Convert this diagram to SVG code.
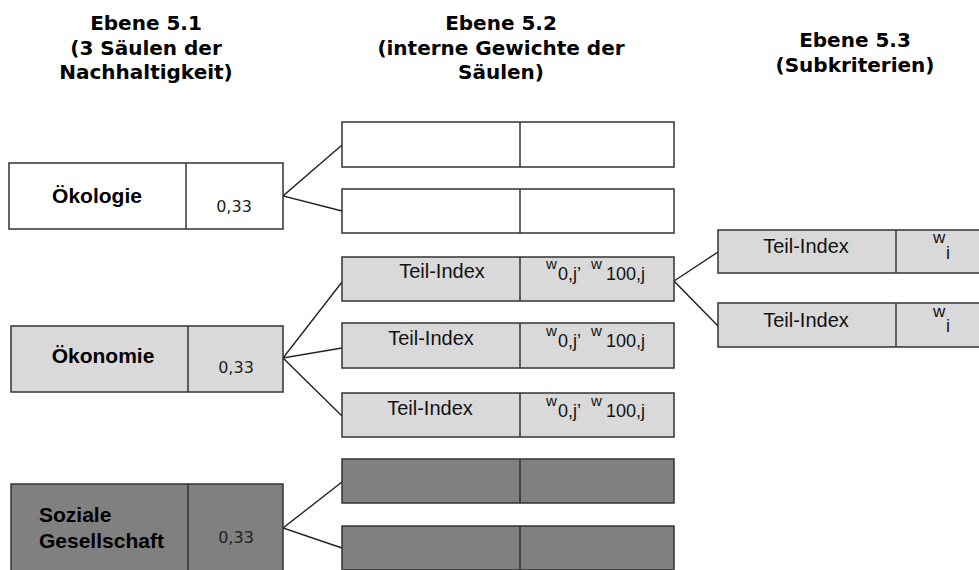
<svg xmlns="http://www.w3.org/2000/svg" width="979" height="570" viewBox="0 0 979 570">
<style>
.title{font-family:"DejaVu Sans",Verdana,sans-serif;font-weight:bold;font-size:20px;fill:#000;text-anchor:middle}
.box{stroke:#333;stroke-width:1.5}
.white{fill:#fff}
.light{fill:#d9d9d9}
.dark{fill:#808080}
.div{stroke:#333;stroke-width:1.5}
.lbl{font-family:"Liberation Sans",Arial,sans-serif;font-weight:bold;font-size:21px;fill:#000}
.val{font-family:"DejaVu Sans",Verdana,sans-serif;font-size:16px;fill:#222}
.ti{font-family:"Liberation Sans",Arial,sans-serif;font-size:20px;fill:#111}
.wsm{font-family:"Liberation Sans",Arial,sans-serif;font-size:15px;fill:#111}
.wsub{font-family:"Liberation Sans",Arial,sans-serif;font-size:18px;fill:#111}
.conn{stroke:#222;stroke-width:1.4;fill:none}
</style>

<g id="titles">
<text class="title" x="146" y="30">Ebene 5.1</text>
<text class="title" x="146" y="54.5">(3 Säulen der</text>
<text class="title" x="146" y="79">Nachhaltigkeit)</text>
<text class="title" x="501" y="30">Ebene 5.2</text>
<text class="title" x="501" y="54.5">(interne Gewichte der</text>
<text class="title" x="501" y="79">Säulen)</text>
<text class="title" x="855" y="47">Ebene 5.3</text>
<text class="title" x="855" y="72">(Subkriterien)</text>
</g>

<g id="connectors">
<polyline class="conn" points="342,145 283,196 342,211"/>
<polyline class="conn" points="342,282 283,358 342,348"/>
<line class="conn" x1="283" y1="358" x2="342" y2="416"/>
<polyline class="conn" points="342,482 283,528 342,548"/>
<polyline class="conn" points="718,252 674,281 718,326"/>
</g>

<g id="oekologie">
<rect class="box white" x="9" y="163" width="274" height="66"/>
<line class="div" x1="186" y1="163" x2="186" y2="229"/>
<text class="lbl" x="97" y="203" text-anchor="middle">Ökologie</text>
<text class="val" x="234" y="212" text-anchor="middle">0,33</text>
</g>

<g id="oekonomie">
<rect class="box light" x="11" y="326" width="272" height="66"/>
<line class="div" x1="188" y1="326" x2="188" y2="392"/>
<text class="lbl" x="103" y="363" text-anchor="middle">Ökonomie</text>
<text class="val" x="236" y="373" text-anchor="middle">0,33</text>
</g>

<g id="soziale">
<rect class="box dark" x="11" y="484" width="272" height="90"/>
<line class="div" x1="188" y1="484" x2="188" y2="574"/>
<text class="lbl" x="39" y="522">Soziale</text>
<text class="lbl" x="39" y="548">Gesellschaft</text>
<text class="val" x="236" y="543" text-anchor="middle">0,33</text>
</g>

<g id="eco1">
<rect class="box white" x="342" y="122" width="332" height="45"/>
<line class="div" x1="520" y1="122" x2="520" y2="167"/>
</g>
<g id="eco2">
<rect class="box white" x="342" y="189" width="332" height="44"/>
<line class="div" x1="520" y1="189" x2="520" y2="233"/>
</g>

<g id="oek1">
<rect class="box light" x="342" y="257" width="332" height="44"/>
<line class="div" x1="520" y1="257" x2="520" y2="301"/>
<text class="ti" x="442" y="278" text-anchor="middle">Teil-Index</text>
<text class="wsm" x="546" y="269">w</text>
<text class="wsub" x="558" y="280">0,j’</text>
<text class="wsm" x="591" y="269">w</text>
<text class="wsub" x="606" y="280">100,j</text>
</g>
<g id="oek2">
<rect class="box light" x="342" y="323" width="332" height="45"/>
<line class="div" x1="520" y1="323" x2="520" y2="368"/>
<text class="ti" x="431" y="345" text-anchor="middle">Teil-Index</text>
<text class="wsm" x="546" y="336">w</text>
<text class="wsub" x="558" y="347">0,j’</text>
<text class="wsm" x="591" y="336">w</text>
<text class="wsub" x="606" y="347">100,j</text>
</g>
<g id="oek3">
<rect class="box light" x="342" y="393" width="332" height="44"/>
<line class="div" x1="520" y1="393" x2="520" y2="437"/>
<text class="ti" x="430" y="415" text-anchor="middle">Teil-Index</text>
<text class="wsm" x="546" y="406">w</text>
<text class="wsub" x="558" y="417">0,j’</text>
<text class="wsm" x="591" y="406">w</text>
<text class="wsub" x="606" y="417">100,j</text>
</g>

<g id="soz1">
<rect class="box dark" x="342" y="459" width="332" height="44"/>
<line class="div" x1="520" y1="459" x2="520" y2="503"/>
</g>
<g id="soz2">
<rect class="box dark" x="342" y="526" width="332" height="44"/>
<line class="div" x1="520" y1="526" x2="520" y2="570"/>
</g>

<g id="sub1">
<rect class="box light" x="718" y="230" width="270" height="43"/>
<line class="div" x1="896" y1="230" x2="896" y2="273"/>
<text class="ti" x="806" y="253" text-anchor="middle">Teil-Index</text>
<text class="wsm" x="933" y="243" style="font-size:17px">w</text>
<text class="ti" x="946" y="259" style="font-size:18px">i</text>
</g>
<g id="sub2">
<rect class="box light" x="718" y="303" width="270" height="44"/>
<line class="div" x1="896" y1="303" x2="896" y2="347"/>
<text class="ti" x="806" y="327" text-anchor="middle">Teil-Index</text>
<text class="wsm" x="933" y="317" style="font-size:17px">w</text>
<text class="ti" x="946" y="332" style="font-size:18px">i</text>
</g>
</svg>
